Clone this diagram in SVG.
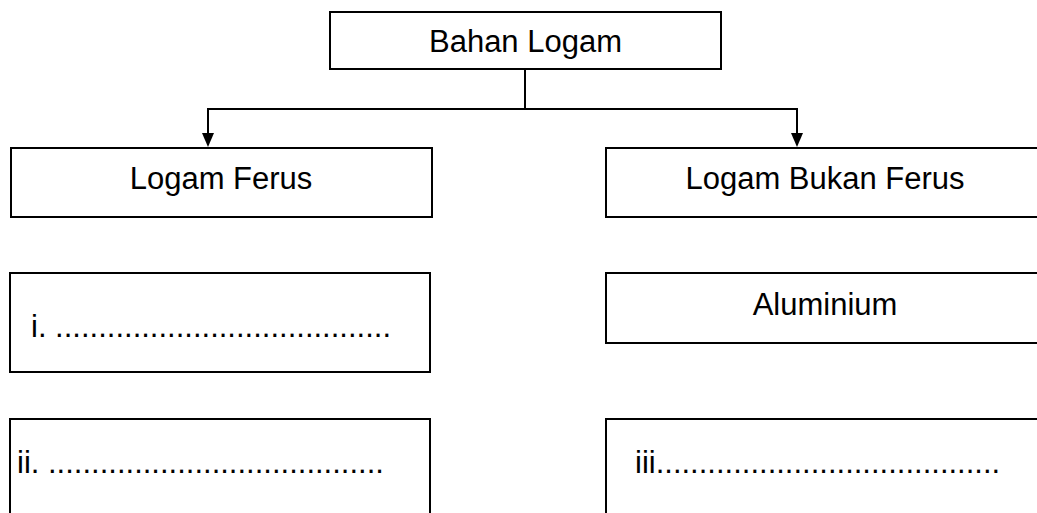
<svg xmlns="http://www.w3.org/2000/svg" width="1037" height="513" viewBox="0 0 1037 513">
  <style>
    .box { fill: #ffffff; stroke: #000000; stroke-width: 2; }
    .lbl { font-family: "Liberation Sans", Arial, sans-serif; font-size: 31px; fill: #000000; }
    .mid { text-anchor: middle; }
    .conn { fill: none; stroke: #000000; stroke-width: 2; }
    .head { fill: #000000; }
  </style>
  <rect x="0" y="0" width="1037" height="513" fill="#ffffff"/>

  <g id="connectors">
    <line class="conn" x1="525" y1="69" x2="525" y2="109"/>
    <line class="conn" x1="207" y1="109" x2="798" y2="109"/>
    <line class="conn" x1="208" y1="109" x2="208" y2="133"/>
    <line class="conn" x1="797" y1="109" x2="797" y2="133"/>
    <polygon class="head" points="202,133 214,133 208,147"/>
    <polygon class="head" points="791,133 803,133 797,147"/>
  </g>

  <g id="bahan-logam">
    <rect class="box" x="330" y="12" width="391" height="57"/>
    <text class="lbl mid" x="525.5" y="52">Bahan Logam</text>
  </g>

  <g id="logam-ferus">
    <rect class="box" x="11" y="148" width="421" height="69"/>
    <text class="lbl mid" x="221" y="189">Logam Ferus</text>
  </g>

  <g id="logam-bukan-ferus">
    <rect class="box" x="606" y="148" width="440" height="69"/>
    <text class="lbl mid" x="825" y="189">Logam Bukan Ferus</text>
  </g>

  <g id="item-i">
    <rect class="box" x="10" y="273" width="420" height="99"/>
    <text class="lbl" x="31" y="337">i. .......................................</text>
  </g>

  <g id="aluminium">
    <rect class="box" x="606" y="273" width="440" height="70"/>
    <text class="lbl mid" x="825" y="315">Aluminium</text>
  </g>

  <g id="item-ii">
    <rect class="box" x="10" y="419" width="420" height="110"/>
    <text class="lbl" x="17" y="473">ii. .......................................</text>
  </g>

  <g id="item-iii">
    <rect class="box" x="606" y="419" width="440" height="110"/>
    <text class="lbl" x="635" y="473">iii........................................</text>
  </g>
</svg>
